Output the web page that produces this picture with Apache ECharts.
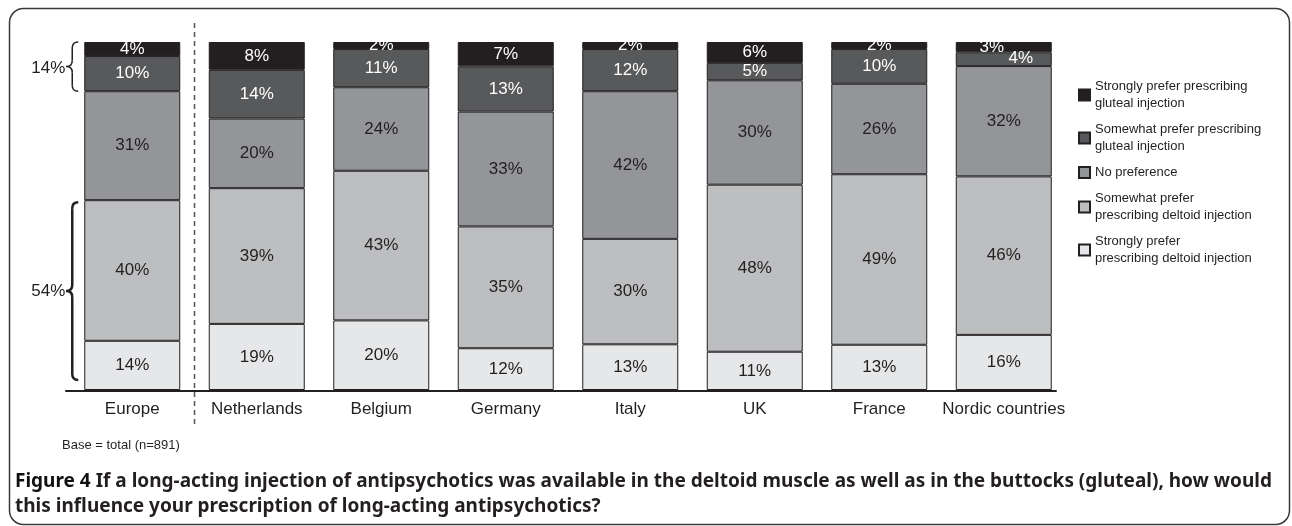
<!DOCTYPE html>
<html>
<head>
<meta charset="utf-8">
<script src="https://cdn.jsdelivr.net/npm/echarts@6/dist/echarts.min.js"></script>
<style>
  html, body { margin: 0; padding: 0; background: #fff; }
  #main { width: 1292px; height: 526px; }
</style>
</head>
<body>
<div id="main"></div>
<script>
var categories = ['Europe', 'Netherlands', 'Belgium', 'Germany', 'Italy', 'UK', 'France', 'Nordic countries'];

// bottom to top of each bar
var stronglyDeltoid = [14, 19, 20, 12, 13, 11, 13, 16];
var somewhatDeltoid = [40, 39, 43, 35, 30, 48, 49, 46];
var noPreference    = [31, 20, 24, 33, 42, 30, 26, 32];
var somewhatGluteal = [10, 14, 11, 13, 12, 5, 10, 4];
var stronglyGluteal = [4, 8, 2, 7, 2, 6, 2, 3];

var seriesNames = [
    'Strongly prefer\nprescribing deltoid injection',
    'Somewhat prefer\nprescribing deltoid injection',
    'No preference',
    'Somewhat prefer prescribing\ngluteal injection',
    'Strongly prefer prescribing\ngluteal injection'
];
var seriesColors = ['#e6e7e8', '#bcbec0', '#939598', '#58595b', '#231f20'];
var labelColors = ['#231f20', '#231f20', '#231f20', '#ffffff', '#ffffff'];

// bracket annotations on the Europe bar
var gluteal_total = 14;
var deltoid_total = 54;

var allValues = [stronglyDeltoid, somewhatDeltoid, noPreference, somewhatGluteal, stronglyGluteal];
var totals = categories.map(function (c, i) {
    return allValues.reduce(function (s, arr) { return s + arr[i]; }, 0);
});

var myChart = echarts.init(document.getElementById('main'));

var series = allValues.map(function (arr, k) {
    return {
        name: seriesNames[k],
        type: 'bar',
        stack: 'total',
        barWidth: 96,
        itemStyle: { color: seriesColors[k], borderColor: '#231f20', borderWidth: 1 },
        label: {
            show: true,
            position: 'inside',
            fontFamily: 'Liberation Sans',
            fontSize: 17,
            color: labelColors[k],
            formatter: function (p) { return arr[p.dataIndex] + '%'; }
        },
        data: arr.map(function (v, i) {
            var item = { value: v / totals[i] * 100 };
            // Nordic: tiny top segments, labels pushed sideways
            if (i === 7 && k === 4) item.label = { offset: [-12, 0] };
            if (i === 7 && k === 3) item.label = { offset: [17, -1] };
            return item;
        })
    };
});

var option = {
    animation: false,
    grid: { left: 70, right: 226, top: 42, bottom: 136 },
    legend: {
        orient: 'vertical',
        left: 1073,
        top: 73,
        itemWidth: 11,
        itemHeight: 11,
        itemGap: 9,
        icon: 'rect',
        selectedMode: false,
        textStyle: { fontFamily: 'Liberation Sans', fontSize: 13, lineHeight: 17, color: '#231f20' },
        data: seriesNames.slice().reverse()
    },
    xAxis: {
        type: 'category',
        data: categories,
        axisLine: { show: false },
        axisTick: { show: false },
        axisLabel: { interval: 0, fontFamily: 'Liberation Sans', fontSize: 17, color: '#231f20', margin: 11 }
    },
    yAxis: {
        type: 'value',
        min: 0,
        max: 100,
        show: false
    },
    series: series
};
myChart.setOption(option);

// annotations placed from the chart's own scales
function px(catIdx, val) {
    return myChart.convertToPixel({ xAxisIndex: 0, yAxisIndex: 0 }, [catIdx, val]);
}
function brace(xl, yt, yb, w) {
    var xr = xl + 7, x0 = xl + 1, xt = xl - 5, r = 6;
    var ym = (yt + yb) / 2;
    var st = { fill: 'none', stroke: '#231f20', lineWidth: w };
    return {
        type: 'group', silent: true,
        children: [
            { type: 'bezierCurve', shape: { x1: xr, y1: yt, cpx1: x0, cpy1: yt, x2: x0, y2: yt + r }, style: st },
            { type: 'line', shape: { x1: x0, y1: yt + r, x2: x0, y2: ym - r }, style: st },
            { type: 'bezierCurve', shape: { x1: x0, y1: ym - r, cpx1: x0, cpy1: ym, x2: xt, y2: ym }, style: st },
            { type: 'bezierCurve', shape: { x1: xt, y1: ym, cpx1: x0, cpy1: ym, x2: x0, y2: ym + r }, style: st },
            { type: 'line', shape: { x1: x0, y1: ym + r, x2: x0, y2: yb - r }, style: st },
            { type: 'bezierCurve', shape: { x1: x0, y1: yb - r, cpx1: x0, cpy1: yb, x2: xr, y2: yb }, style: st }
        ]
    };
}

var eu = totals[0];
var base = px(0, 0)[1];
var barLeft = px(0, 0)[0] - 48;
var topGlute = px(0, 100)[1];
var botGlute = px(0, 100 - gluteal_total / eu * 100)[1];
var topDelt = px(0, deltoid_total / eu * 100)[1] + 2;
var botDelt = base - 10;
var sepX = (px(0, 0)[0] + px(1, 0)[0]) / 2;

myChart.setOption({
    graphic: [
        {
            type: 'rect', silent: true,
            shape: { x: 9.5, y: 8.5, width: 1280, height: 516, r: 14 },
            style: { fill: 'none', stroke: '#3a3a3a', lineWidth: 1.5 }
        },
        {
            type: 'line', silent: true,
            shape: { x1: px(0, 0)[0] - 67, y1: base + 1, x2: px(7, 0)[0] + 53, y2: base + 1 },
            style: { stroke: '#231f20', lineWidth: 2 }
        },
        {
            type: 'line', silent: true,
            shape: { x1: sepX, y1: 23, x2: sepX, y2: 424 },
            style: { stroke: '#555', lineWidth: 1.5, lineDash: [5, 4] }
        },
        brace(barLeft - 13, topGlute, botGlute, 1.5),
        brace(barLeft - 13, topDelt, botDelt, 2.5),
        {
            type: 'text', silent: true,
            x: barLeft - 19, y: (topGlute + botGlute) / 2 + 2,
            style: { text: gluteal_total + '%', font: '17px "Liberation Sans"', fill: '#231f20', align: 'right', verticalAlign: 'middle' }
        },
        {
            type: 'text', silent: true,
            x: barLeft - 19, y: (topDelt + botDelt) / 2,
            style: { text: deltoid_total + '%', font: '17px "Liberation Sans"', fill: '#231f20', align: 'right', verticalAlign: 'middle' }
        },
        {
            type: 'text', silent: true,
            x: 62, y: 445,
            style: { text: 'Base = total (n=891)', font: '13px "Liberation Sans"', fill: '#231f20', verticalAlign: 'middle' }
        },
        {
            type: 'text', silent: true,
            x: 15, y: 469,
            style: {
                text: '{a|Figure 4} If a long-acting injection of antipsychotics was available in the deltoid muscle as well as in the buttocks (gluteal), how would\nthis influence your prescription of long-acting antipsychotics?',
                font: 'bold 19px "Noto Sans"',
                lineHeight: 25,
                fill: '#231f20',
                rich: { a: { font: 'bold 19px "Noto Sans"', fill: '#111', lineHeight: 25 } }
            }
        }
    ]
});
</script>
</body>
</html>
